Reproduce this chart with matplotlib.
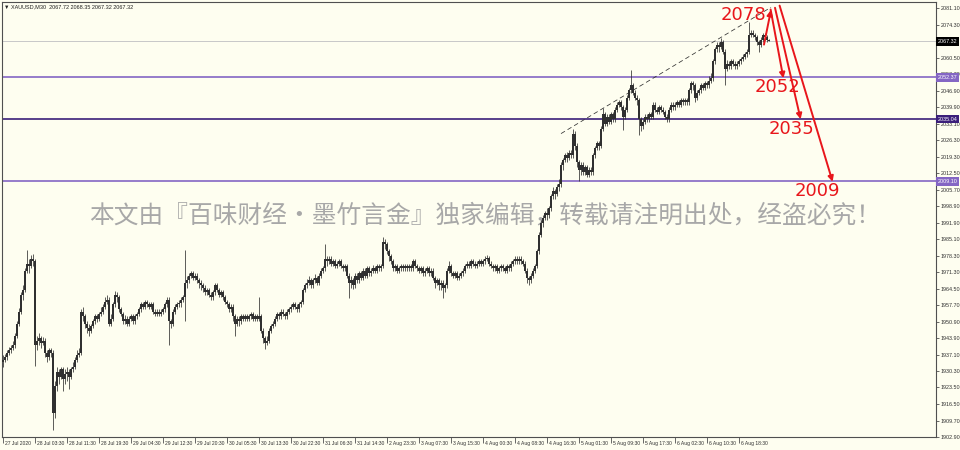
import matplotlib
matplotlib.use("Agg")
import matplotlib.pyplot as plt
import matplotlib.transforms as mtransforms
import numpy as np

plt.rcParams['font.family'] = ['Liberation Sans', 'DejaVu Sans']

# ---------------- data ----------------
first_open = 1934
closes = [
    1935, 1936, 1938, 1939, 1940, 1941, 1945, 1950, 1955, 1962,
    1964, 1972, 1975, 1974, 1977, 1976, 1941, 1943, 1944, 1942,
    1943, 1938, 1936, 1939, 1938, 1913, 1924, 1930, 1928, 1931,
    1927, 1929, 1930, 1928, 1931, 1932, 1935, 1937, 1938, 1955,
    1953, 1950, 1948, 1947, 1949, 1951, 1953, 1952, 1954, 1955,
    1957, 1959, 1960, 1950, 1952, 1958, 1962, 1961, 1956, 1954,
    1951, 1952, 1950, 1952, 1953, 1951, 1953, 1954, 1956, 1958,
    1957, 1959, 1958, 1957, 1958, 1955, 1954, 1955, 1954, 1955,
    1956, 1958, 1960, 1951, 1950, 1955, 1957, 1958, 1958.5, 1960,
    1961, 1967, 1968, 1970, 1971, 1969, 1970, 1968, 1967, 1966,
    1965, 1963, 1964, 1962, 1961, 1963, 1966, 1964, 1962, 1963,
    1961, 1959, 1958, 1956, 1957, 1953, 1950, 1952, 1951, 1953,
    1952, 1953, 1952, 1953, 1954, 1952, 1953, 1952, 1953, 1947,
    1944, 1942, 1943, 1947, 1949, 1950, 1952, 1954, 1953, 1955,
    1954, 1953, 1955, 1956, 1957, 1958, 1957, 1956, 1958, 1959,
    1964, 1966, 1967, 1968, 1966, 1968, 1969, 1967, 1970, 1972,
    1973, 1977, 1976, 1977, 1975, 1976, 1974, 1975, 1976, 1974,
    1973, 1974, 1970, 1967, 1968, 1966, 1970, 1968, 1971, 1969,
    1972, 1970, 1973, 1971, 1972, 1973, 1972, 1974, 1973, 1974,
    1984, 1983, 1980, 1978, 1976, 1973, 1974, 1972, 1973, 1974,
    1973, 1974, 1973, 1974, 1973, 1976, 1974, 1973, 1972, 1973,
    1971, 1972, 1973, 1971, 1972, 1969, 1967, 1968, 1966, 1967,
    1965, 1966, 1972, 1974, 1971, 1970, 1971, 1969, 1970, 1971,
    1972, 1974, 1975, 1974, 1976, 1975, 1974, 1975, 1976, 1975,
    1976, 1977, 1977.5, 1975, 1974, 1973, 1974, 1972, 1973, 1974,
    1973, 1972, 1974, 1973, 1975, 1976, 1977, 1976, 1977, 1976,
    1975, 1972, 1969, 1968, 1970, 1972, 1974, 1980, 1987, 1992,
    1994, 1996, 1995, 1998, 2003, 2005, 2004, 2007, 2008, 2016,
    2018, 2020, 2019, 2021, 2020, 2029, 2024, 2017, 2014, 2016,
    2013, 2015, 2012, 2014, 2013, 2020, 2023, 2025, 2024, 2031,
    2037, 2033, 2036, 2034, 2037, 2035, 2039, 2041, 2042, 2040,
    2036, 2039, 2044, 2047, 2049, 2046, 2044, 2043, 2035, 2032,
    2034, 2036, 2035, 2037, 2036, 2041, 2039, 2038, 2040, 2039,
    2038, 2036, 2035, 2039, 2041, 2040, 2041, 2042, 2041, 2043,
    2042, 2043, 2042, 2047, 2050, 2049, 2044, 2046, 2047, 2049,
    2048, 2050, 2049, 2051, 2052, 2059, 2064, 2066, 2065, 2067,
    2063, 2056, 2058, 2057, 2059, 2058, 2057, 2058, 2059, 2060,
    2061, 2062, 2063, 2070, 2071, 2070, 2069, 2067, 2066, 2068,
    2070, 2069, 2067.72, 2067.32,
]
highs = [
    1937, 1937.5, 1939, 1940.5, 1941, 1943, 1946, 1951, 1956.5, 1963,
    1966, 1973, 1980.7, 1977, 1978.5, 1979, 1977, 1945, 1946, 1945,
    1944.5, 1944, 1939, 1940, 1940, 1939, 1926, 1932, 1931, 1932,
    1932, 1931, 1932, 1931, 1932, 1934, 1936, 1939, 1940, 1956,
    1957, 1954, 1951, 1950, 1950, 1952, 1954, 1954, 1955, 1957,
    1958, 1961, 1962, 1961, 1954, 1959, 1963.5, 1963, 1962, 1957,
    1955, 1953.5, 1953, 1953, 1954, 1954, 1954, 1955, 1957, 1959,
    1959, 1960, 1960, 1959, 1959, 1959, 1956, 1956, 1956, 1956,
    1957, 1959, 1961, 1961, 1952, 1956, 1958, 1959, 1960, 1961,
    1962, 1980.8, 1970, 1971, 1972, 1972, 1971, 1971, 1969, 1968,
    1967, 1966, 1965, 1965, 1963, 1964, 1967, 1967, 1965, 1964,
    1964, 1962, 1960, 1959, 1958, 1958, 1954, 1953, 1953, 1954,
    1954, 1954, 1954, 1954, 1955, 1955, 1954, 1954, 1961, 1954,
    1948, 1945, 1945, 1948, 1950, 1951, 1953, 1955, 1955, 1956,
    1956, 1955, 1956, 1957, 1958, 1959, 1959, 1958, 1959, 1960,
    1965, 1967, 1968.5, 1970, 1969, 1969, 1970.5, 1970, 1971, 1973,
    1974, 1983.2, 1978, 1978, 1978, 1977, 1977, 1976, 1977, 1977,
    1975, 1975, 1975, 1971, 1970, 1969, 1971, 1971, 1972, 1972,
    1973, 1973, 1974, 1974, 1973, 1974.5, 1974, 1975, 1975, 1975,
    1986.2, 1985, 1984, 1981, 1979, 1977, 1975, 1975, 1974, 1975,
    1975, 1975, 1975, 1975, 1975, 1977, 1977, 1975, 1974, 1974,
    1974, 1973, 1974, 1974, 1973, 1973, 1970, 1969, 1969, 1968,
    1968, 1967, 1973, 1976, 1975, 1972, 1972, 1972, 1971, 1972,
    1973, 1975, 1976, 1976, 1977, 1977, 1976, 1976, 1977, 1977,
    1977, 1978, 1978.5, 1978, 1976, 1975, 1975, 1975, 1974, 1975,
    1975, 1974, 1975, 1975, 1976, 1977, 1978, 1978, 1978, 1978,
    1977, 1976, 1973, 1970, 1971, 1973, 1975, 1981, 1988, 1993,
    1995, 1997, 1998, 1999, 2004, 2007, 2006, 2008, 2010, 2017,
    2019, 2021, 2021.5, 2022, 2022, 2031, 2030, 2025, 2018, 2017,
    2017, 2016, 2016, 2015, 2015, 2021, 2024, 2026, 2026, 2032,
    2039.5, 2038, 2037, 2037, 2038, 2038, 2040, 2042, 2043, 2043,
    2041, 2040, 2045, 2048, 2055.3, 2050, 2047, 2045, 2044, 2036,
    2035, 2037, 2037, 2038, 2038, 2042, 2042, 2040, 2041, 2041,
    2040, 2039, 2037, 2040, 2042, 2042, 2042, 2043, 2043, 2044,
    2044, 2044, 2044, 2048, 2051, 2051, 2050, 2047, 2048, 2050,
    2050, 2051, 2051, 2053, 2054, 2060, 2065, 2067, 2067, 2068.6,
    2068, 2064, 2059.5, 2059, 2060, 2060, 2059, 2059, 2060, 2061,
    2062, 2063, 2064, 2075.3, 2072, 2072, 2071, 2070, 2068, 2069,
    2071, 2071, 2070, 2068.35,
]
lows = [
    1932, 1934, 1935, 1937, 1938, 1939, 1940, 1944, 1949, 1954,
    1960, 1963, 1971, 1971, 1973, 1974, 1932.4, 1939, 1941, 1940,
    1941, 1936, 1934, 1935, 1936, 1906, 1911, 1922, 1925, 1927,
    1922, 1925, 1926, 1923, 1927, 1930, 1931, 1934, 1936, 1937,
    1951, 1948, 1946, 1945, 1946, 1948, 1950, 1950.5, 1951, 1953,
    1954, 1956, 1958, 1949, 1949, 1951, 1957, 1959, 1955, 1953,
    1950, 1950, 1949, 1949, 1951, 1950, 1950, 1952, 1953, 1955,
    1956, 1956, 1957, 1956, 1956, 1954, 1953, 1953, 1953, 1953,
    1954, 1955, 1957, 1941, 1948, 1949, 1954, 1956, 1957, 1957,
    1959, 1951, 1965, 1967, 1969, 1968, 1968, 1967, 1965, 1964,
    1963, 1962, 1962, 1961, 1960, 1960, 1962, 1963, 1961, 1961,
    1960, 1958, 1957, 1955, 1955, 1951, 1945, 1949, 1949, 1950,
    1951, 1951, 1951, 1951, 1952, 1951, 1951, 1951, 1951, 1946,
    1942, 1939.5, 1941, 1942, 1946, 1948, 1949, 1951, 1952, 1952,
    1953, 1952, 1952, 1954, 1955, 1956, 1956, 1955, 1955, 1957,
    1958, 1963, 1965, 1966, 1965, 1965, 1967, 1966, 1966, 1969,
    1971, 1972, 1974, 1975, 1974, 1974, 1973, 1973, 1974, 1973,
    1972, 1972, 1969, 1960.5, 1965, 1964.5, 1965, 1967, 1967, 1968,
    1968, 1969, 1969, 1970, 1970, 1971, 1971, 1971, 1972, 1972,
    1973, 1981, 1979, 1976, 1975, 1972, 1972, 1971, 1971, 1972,
    1972, 1972, 1972, 1972, 1972, 1972, 1973, 1972, 1971, 1971,
    1970, 1970, 1971, 1970, 1970, 1968, 1965, 1966, 1964, 1964,
    1960.8, 1963, 1965, 1971, 1970, 1969, 1969, 1968, 1968, 1969,
    1970, 1971, 1973, 1973, 1973, 1974, 1973, 1973, 1974, 1974,
    1974, 1975, 1976, 1974, 1973, 1972, 1972, 1971, 1971, 1972,
    1972, 1971, 1971, 1972, 1972, 1974, 1975, 1975, 1975, 1975,
    1974, 1971, 1967, 1966, 1967, 1969, 1971, 1973, 1979, 1986,
    1990, 1993, 1993, 1994, 1997, 2002, 2002, 2003, 2005, 2007,
    2014, 2017, 2017, 2018, 2019, 2019, 2022, 2015, 2009.5, 2012,
    2012, 2012, 2011, 2011, 2012, 2012, 2019, 2022, 2022, 2023,
    2030, 2032, 2032, 2033, 2033, 2034, 2034, 2038, 2040, 2039,
    2030.5, 2035, 2038, 2043, 2046, 2045, 2043, 2041, 2028.5, 2030,
    2031, 2033, 2034, 2034, 2035, 2035, 2038, 2037, 2037, 2038,
    2037, 2035, 2034, 2034, 2038, 2039, 2039, 2040, 2040, 2040,
    2041, 2041, 2041, 2041, 2046, 2047, 2042, 2043, 2045, 2046,
    2047, 2047, 2048, 2048, 2050, 2051, 2058, 2063, 2063, 2064,
    2062, 2049, 2055, 2056, 2056, 2057, 2056, 2056, 2057, 2058,
    2059, 2060, 2061, 2062, 2069, 2069, 2068, 2066, 2062.8, 2065,
    2067, 2068, 2067, 2067.32,
]
opens = [first_open] + closes[:-1]

x_labels = ["27 Jul 2020", "28 Jul 03:30", "28 Jul 11:30", "28 Jul 19:30",
            "29 Jul 04:30", "29 Jul 12:30", "29 Jul 20:30", "30 Jul 05:30",
            "30 Jul 13:30", "30 Jul 22:30", "31 Jul 06:30", "31 Jul 14:30",
            "2 Aug 23:30", "3 Aug 07:30", "3 Aug 15:30", "4 Aug 00:30",
            "4 Aug 08:30", "4 Aug 16:30", "5 Aug 01:30", "5 Aug 09:30",
            "5 Aug 17:30", "6 Aug 02:30", "6 Aug 10:30", "6 Aug 18:30"]
x_label_step = 16

y_ticks = [2081.10, 2074.30, 2067.50, 2060.50, 2053.70, 2046.90, 2039.90,
           2033.10, 2026.30, 2019.30, 2012.50, 2005.70, 1998.90, 1991.90,
           1985.10, 1978.30, 1971.30, 1964.50, 1957.70, 1950.90, 1943.90,
           1937.10, 1930.30, 1923.50, 1916.50, 1909.70, 1902.90]

current_price = 2067.32
level_prices = [2052.37, 2035.04, 2009.10]
level_colors = ["#8466c4", "#3b1f7a", "#8466c4"]

target_up = 2078
targets_down = [2052, 2035, 2009]

title_text = "XAUUSD,M30  2067.72 2068.35 2067.32 2067.32"
watermark = "本文由『百味财经·墨竹言金』独家编辑，转载请注明出处，经盗必究！"

# ---------------- figure ----------------
BG = "#fefef0"
fig = plt.figure(figsize=(9.6, 4.5), dpi=100, facecolor=BG)
ax = fig.add_axes([2 / 960, 13 / 450, 934 / 960, 435 / 450])
ax.set_facecolor(BG)

n = len(closes)
xs = np.arange(n)
o = np.array(opens, float)
c = np.array(closes, float)
h = np.array(highs, float)
l = np.array(lows, float)

ax.set_xlim(-0.5, 466.5)
ax.set_ylim(1902.9, 2083.7)

# watermark
ax.text(0.517, 0.508, watermark, transform=ax.transAxes, ha="center", va="center",
        fontsize=17.8, color="#a8a8a8", family=["Noto Sans CJK SC", "DejaVu Sans"], zorder=1)

# horizontal lines
ax.axhline(current_price, color="#c8c8c8", lw=0.7, zorder=2)
for p, col in zip(level_prices, level_colors):
    ax.axhline(p, color=col, lw=1.2, zorder=2)

# candles
candle_col = "#303030"
ax.vlines(xs, l, h, color=candle_col, lw=0.55, zorder=4)
body_bottom = np.minimum(o, c)
body_h = np.maximum(np.abs(c - o), 0.35)
ax.bar(xs, body_h, bottom=body_bottom, width=0.55, color=candle_col, lw=0, zorder=4)

# trend line (dashed)
ax.plot([279, 384], [2029, 2081.5], color="#303030", lw=0.55, ls=(0, (6, 4)), zorder=5)

# red analysis arrows
red = "#e8161b"
arrow_kw = dict(arrowstyle="-|>", color=red, lw=1.4, mutation_scale=8, shrinkA=0, shrinkB=0)
ax.annotate("", xy=(384, 2080.4), xytext=(380.5, 2066), arrowprops=arrow_kw, zorder=6)
starts = [(383.8, 2080.6), (386.0, 2081.3), (388.3, 2082.2)]
ends_x = [390.2, 398.8, 414.8]
for (sx, sy), ex, ty in zip(starts, ends_x, targets_down):
    ax.annotate("", xy=(ex, ty), xytext=(sx, sy), arrowprops=arrow_kw, zorder=6)

txt_kw = dict(color=red, fontsize=13, ha="center", va="center", zorder=7,
              family=["DejaVu Sans"])
ax.text(370.0, 2078.4, str(target_up), **txt_kw)
ax.text(387.0, 2048.3, str(targets_down[0]), **txt_kw)
ax.text(394.0, 2031.0, str(targets_down[1]), **txt_kw)
ax.text(407.0, 2005.0, str(targets_down[2]), **txt_kw)

# axes styling
for s in ax.spines.values():
    s.set_color("#505050")
    s.set_linewidth(0.8)

ax.yaxis.tick_right()
ax.set_yticks(y_ticks)
# the 2067.50 label sits behind the current-price box in the reference
ax.set_yticklabels(["" if abs(v - 2067.50) < 1e-6 else f"{v:.2f}" for v in y_ticks])
ax.tick_params(axis="y", direction="out", length=2.5, width=0.6, color="#505050",
               labelsize=3.9, labelcolor="#303030", pad=1.0)

tick_pos = [i * x_label_step for i in range(len(x_labels))]
ax.set_xticks(tick_pos)
ax.set_xticklabels([])
ax.tick_params(axis="x", direction="out", length=4, width=0.6, color="#505050")
trans_lbl = mtransforms.offset_copy(ax.get_xaxis_transform(), fig=fig, x=1.2, y=-2.8, units="points")
for tp, lab in zip(tick_pos, x_labels):
    ax.text(tp, 0, lab, transform=trans_lbl, ha="left", va="top", fontsize=3.6, color="#303030")

# price boxes on right axis
trans_box = mtransforms.blended_transform_factory(ax.transAxes, ax.transData)
ax.text(1.0015, current_price, f"{current_price:.2f}", transform=trans_box, ha="left", va="center",
        fontsize=3.9, color="white", clip_on=False, zorder=10,
        bbox=dict(boxstyle="square,pad=0.3", fc="#000000", ec="none"))
for p, col in zip(level_prices, level_colors):
    ax.text(1.0015, p, f"{p:.2f}", transform=trans_box, ha="left", va="center",
            fontsize=3.9, color="white", clip_on=False, zorder=10,
            bbox=dict(boxstyle="square,pad=0.3", fc=col, ec="none"))

# title
fig.text(4 / 960, 1 - 7 / 450, "\u25bc " + title_text, fontsize=4.0, color="#202020",
         ha="left", va="center")

fig.savefig("out.png", dpi=100, facecolor=BG)
